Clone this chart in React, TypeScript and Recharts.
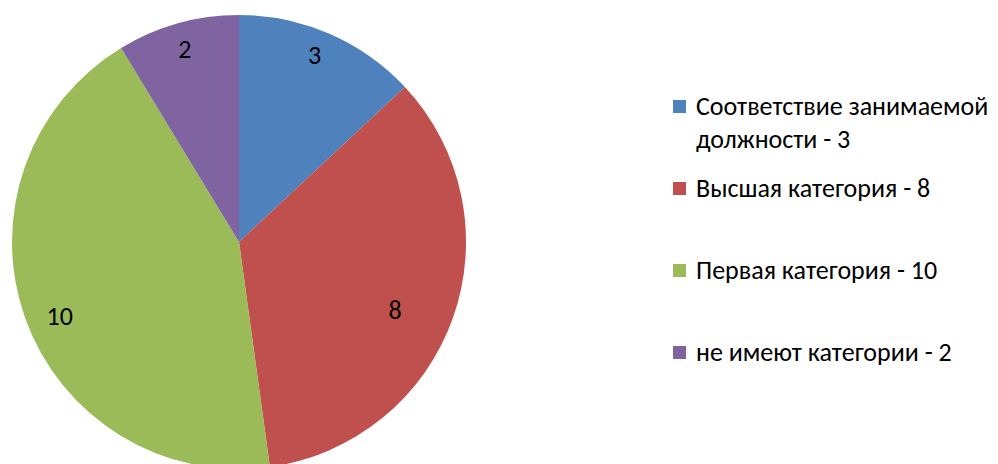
import React from 'react';
import { PieChart, Pie, Cell, Legend } from 'recharts';

const categories = [
  'Соответствие занимаемой должности',
  'Высшая категория',
  'Первая категория',
  'не имеют категории',
];
const counts = [3, 8, 10, 2];
const COLORS = ['#4F81BD', '#C0504D', '#9BBB59', '#8064A2'];
// label placement tweaks: fraction of radius, and nudge in degrees (clockwise)
const LABEL_RADIUS = [0.89, 0.75, 0.855, 0.885];
const LABEL_NUDGE = [-1.5, 4, -3, 0];

const data = categories.map((name, i) => ({ name, value: counts[i] }));

const FONT = 'Carlito, "Open Sans", "Noto Sans", sans-serif';
const RADIAN = Math.PI / 180;

const renderLabel = (props: any) => {
  const { cx, cy, midAngle, outerRadius, value, index } = props;
  const r = outerRadius * LABEL_RADIUS[index];
  const a = midAngle - LABEL_NUDGE[index];
  const x = cx + r * Math.cos(-a * RADIAN);
  const y = cy + r * Math.sin(-a * RADIAN);
  return (
    <text x={x} y={y} fill="#000" fontSize={26} fontFamily={FONT} textAnchor="middle" dominantBaseline="central">
      {value}
    </text>
  );
};

const renderLegend = () => (
  <div style={{ fontFamily: FONT, fontSize: 26, color: '#000' }}>
    {data.map((d, i) => (
      <div key={d.name} style={{ display: 'flex', alignItems: 'flex-start', height: 82 }}>
        <span
          style={{ width: 13, height: 13, background: COLORS[i], marginTop: 10, marginRight: 10, flexShrink: 0 }}
        />
        <span style={{ width: 302, lineHeight: '33px' }}>{`${d.name} - ${d.value}`}</span>
      </div>
    ))}
  </div>
);

export default function App() {
  return (
    <div style={{ margin: '-8px 0 0 -8px', width: 998, height: 464, background: '#fff', overflow: 'hidden' }}>
      <PieChart width={998} height={464} margin={{ top: 0, right: 0, bottom: 0, left: 0 }}>
        <Pie
          data={data}
          dataKey="value"
          nameKey="name"
          cx={239}
          cy={242}
          outerRadius={227}
          startAngle={90}
          endAngle={-270}
          stroke="none"
          labelLine={false}
          label={renderLabel}
          isAnimationActive={false}
        >
          {data.map((d, i) => (
            <Cell key={d.name} fill={COLORS[i]} />
          ))}
        </Pie>
        <Legend
          layout="vertical"
          content={renderLegend}
          wrapperStyle={{ position: 'absolute', left: 673, top: 90, width: 325 }}
        />
      </PieChart>
    </div>
  );
}
